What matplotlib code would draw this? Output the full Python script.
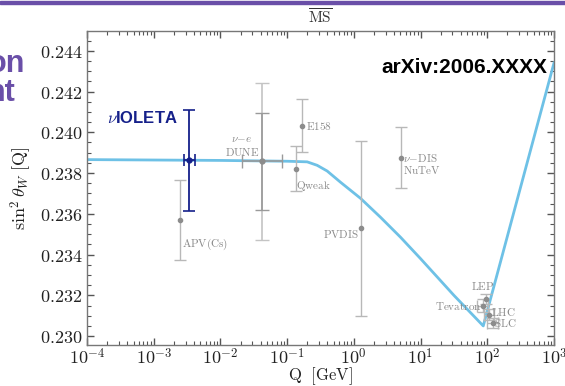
import numpy as np
import matplotlib
matplotlib.use("Agg")
import matplotlib.pyplot as plt
from matplotlib.ticker import FuncFormatter, MultipleLocator, LogLocator
from matplotlib.patches import Rectangle

plt.rcParams['mathtext.fontset'] = 'cm'

# running sin^2 theta_W curve (MS-bar)
curve_logq = [-4.0, -2.0, -1.0, -0.7, -0.55, -0.4, -0.2, 0.1, 0.4, 0.7, 1.0, 1.5, 1.94, 3.0]
curve_s2 = [0.23866, 0.23862, 0.23858, 0.23855, 0.23838, 0.2381, 0.23755, 0.23676,
            0.23583, 0.23485, 0.2338, 0.2320, 0.2305, 0.2434]

# existing measurements
meas_names = ["APV(Cs)", "E158", "Qweak", "PVDIS", "NuTeV", "LEP", "Tevatron", "LHC", "SLC"]
meas_q = [0.00248, 0.166, 0.136, 1.28, 5.05, 96.0, 85.0, 106.0, 120.0]
meas_s2 = [0.23568, 0.24033, 0.23822, 0.23528, 0.23876, 0.23183, 0.23150, 0.23106, 0.23066]
meas_err = [0.00197, 0.0013, 0.0011, 0.0043, 0.0015, 0.00025, 0.0003, 0.00025, 0.00025]
meas_qerr = [0.0, 0.0, 0.0, 0.0, 0.0, 0.0, 0.08, 0.08, 0.08]  # in decades

# DUNE nu-e projection
dune_q = 0.0416
dune_s2 = 0.23858
dune_err_in = 0.00237
dune_err_out = 0.00384
dune_qerr = 0.3

# nuIOLETA projection
vio_q = 0.0034
vio_s2 = 0.23863
vio_err = 0.00248
vio_qerr = 0.08

fig = plt.figure(figsize=(5.65, 3.86), dpi=100)
ax = fig.add_axes([0.154, 0.106, 0.8265, 0.8137])

ax.plot(10 ** np.array(curve_logq), curve_s2, color='#6ec1e6', lw=2.0, zorder=2)

gray_bar = '#b8b8b8'
gray_pt = '#8c8c8c'
for q, s, e, qe in zip(meas_q, meas_s2, meas_err, meas_qerr):
    xerr = None
    if qe > 0:
        xerr = [[q - q / 10 ** qe], [q * 10 ** qe - q]]
    ax.errorbar(q, s, yerr=e, xerr=xerr, fmt='o', ms=3, color=gray_pt, ecolor=gray_bar,
                elinewidth=1.0, capsize=4, capthick=1.0, zorder=3)

# DUNE: outer (lighter) and inner (darker) bars
ax.errorbar(dune_q, dune_s2, yerr=dune_err_out, fmt='none', ecolor='#c4c4c4',
            elinewidth=1.2, capsize=5, zorder=3)
ax.errorbar(dune_q, dune_s2, yerr=dune_err_in,
            xerr=[[dune_q - dune_q / 10 ** dune_qerr], [dune_q * 10 ** dune_qerr - dune_q]],
            fmt='o', ms=3.5, color='#8c8c8c', ecolor='#9a9a9a', elinewidth=1.2,
            capsize=5, zorder=4)

# nuIOLETA
ax.errorbar(vio_q, vio_s2, yerr=vio_err,
            xerr=[[vio_q - vio_q / 10 ** vio_qerr], [vio_q * 10 ** vio_qerr - vio_q]],
            fmt='o', ms=3.5, color='#15208a', ecolor='#15208a', elinewidth=1.3,
            capsize=4, capthick=1.2, zorder=5)

lab = dict(color='#8a8a8a', fontsize=8)
ax.text(0.0027, 0.23450, r"$\mathrm{APV(Cs)}$", ha='left', va='center', **lab)
ax.text(0.021, 0.23965, r"$\nu\!-\!e$", ha='center', va='center', **lab)
ax.text(0.021, 0.23905, r"$\mathrm{DUNE}$", ha='center', va='center', **lab)
ax.text(0.19, 0.24033, r"$\mathrm{E158}$", ha='left', va='center', **lab)
ax.text(0.138, 0.23735, r"$\mathrm{Qweak}$", ha='left', va='center', **lab)
ax.text(1.18, 0.23500, r"$\mathrm{PVDIS}$", ha='right', va='center', **lab)
ax.text(5.5, 0.23876, r"$\nu\!-\!\mathrm{DIS}$", ha='left', va='center', **lab)
ax.text(5.5, 0.23817, r"$\mathrm{NuTeV}$", ha='left', va='center', **lab)
ax.text(86, 0.23245, r"$\mathrm{LEP}$", ha='center', va='center', **lab)
ax.text(82, 0.23150, r"$\mathrm{Tevatron}$", ha='right', va='center', **lab)
ax.text(112, 0.23118, r"$\mathrm{LHC}$", ha='left', va='center', **lab)
ax.text(126, 0.23062, r"$\mathrm{SLC}$", ha='left', va='center', **lab)

ax.text(0.0002, 0.24070, r"$\nu$IOLETA", color='#15208a', fontsize=12,
        fontweight='bold', family='Liberation Sans', ha='left', va='center')
ax.text(0.985, 0.885, "arXiv:2006.XXXX", transform=ax.transAxes, ha='right', va='center',
        fontsize=15, fontweight='bold', family='Liberation Sans', color='black')

ax.set_xscale('log')
ax.set_xlim(1e-4, 1e3)
ax.set_ylim(0.22956, 0.24497)
ax.yaxis.set_major_locator(MultipleLocator(0.002))
ax.yaxis.set_minor_locator(MultipleLocator(0.0005))
ax.xaxis.set_major_locator(LogLocator(base=10, numticks=20))
ax.xaxis.set_minor_locator(LogLocator(base=10, subs=np.arange(2, 10), numticks=20))
ax.yaxis.set_major_formatter(FuncFormatter(lambda v, p: r"$%.3f$" % v))
ax.xaxis.set_major_formatter(FuncFormatter(lambda v, p: r"$10^{%d}$" % int(round(np.log10(v)))))

ax.tick_params(which='both', direction='in', top=True, right=True, colors='#555555',
               labelcolor='#222222', labelsize=13)
ax.tick_params(which='major', length=5, width=1.0)
ax.tick_params(which='minor', length=3, width=0.8)
ax.tick_params(axis='x', pad=2)
for sp in ax.spines.values():
    sp.set_color('#777777')
    sp.set_linewidth(1.0)

ax.set_xlabel(r"$\mathrm{Q\ \ [GeV]}$", fontsize=12, color='#222222', labelpad=-2)
ax.set_ylabel(r"$\sin^2\theta_W\ \mathrm{[Q]}$", fontsize=13, color='#222222', labelpad=4)

fig.text(0.567, 0.956, r"$\overline{\mathrm{MS}}$", ha='center', va='center', fontsize=11,
         color='#333333')

# slide remnants: purple rule and cut-off title text
fig.patches.append(Rectangle((0, 0.990), 1, 0.008, transform=fig.transFigure,
                             color='#6a4fa8', zorder=10))
fig.text(0.044, 0.835, "on", ha='right', va='center', fontsize=22, fontweight='bold',
         family='Liberation Sans', color='#6a4fa8')
fig.text(0.028, 0.758, "nt", ha='right', va='center', fontsize=22, fontweight='bold',
         family='Liberation Sans', color='#6a4fa8')

fig.savefig("out.png", dpi=100)
